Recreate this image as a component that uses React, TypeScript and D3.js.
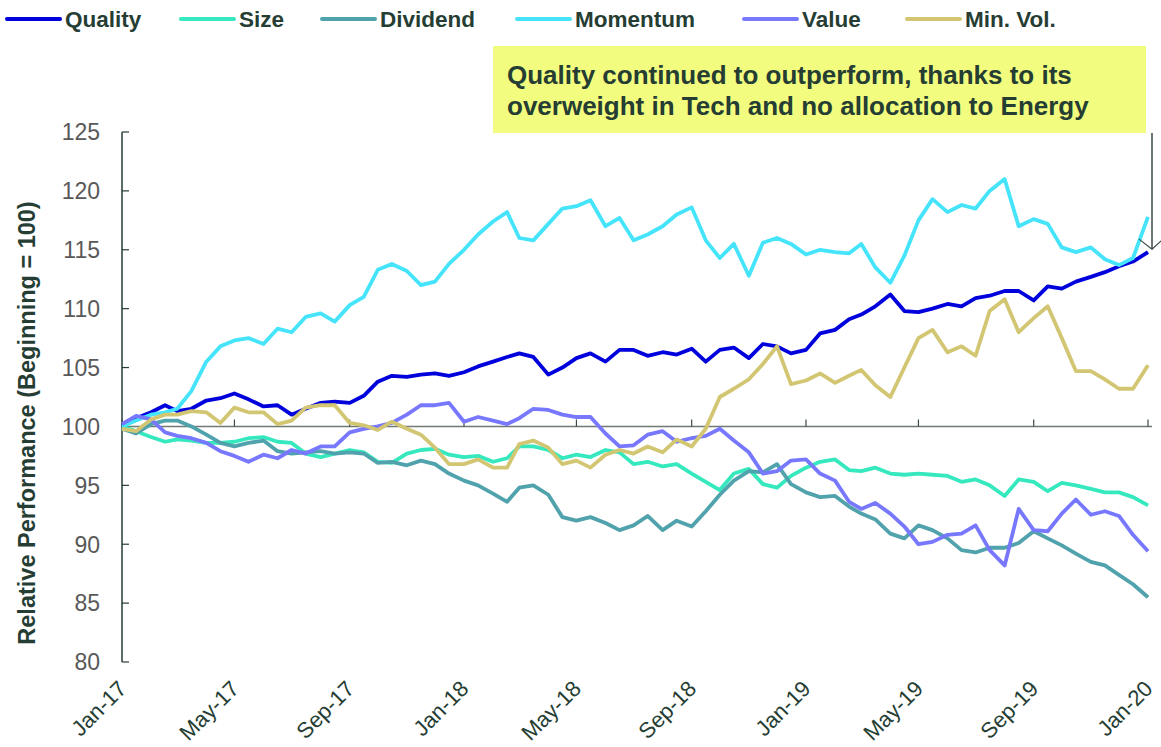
import React from 'react';
import * as d3 from 'd3';

// semi-monthly readings, Jan-17 .. Jan-20 (73 points)
const quality = [100, 100.7, 101.2, 101.8, 101.3, 101.5, 102.2, 102.4, 102.8, 102.3, 101.7, 101.8, 101, 101.5, 102, 102.1, 102, 102.6, 103.8, 104.3, 104.2, 104.4, 104.5, 104.3, 104.6, 105.1, 105.5, 105.9, 106.2, 105.9, 104.4, 105, 105.8, 106.2, 105.5, 106.5, 106.5, 106, 106.3, 106.1, 106.6, 105.5, 106.5, 106.7, 105.8, 107, 106.8, 106.2, 106.5, 107.9, 108.2, 109.1, 109.5, 110.2, 111.2, 109.8, 109.7, 110, 110.4, 110.2, 110.9, 111.1, 111.5, 111.5, 110.7, 111.9, 111.7, 112.3, 112.7, 113.1, 113.6, 114, 114.8];
const size = [100, 99.6, 99.1, 98.7, 98.9, 98.8, 98.6, 98.6, 98.7, 99, 99.1, 98.7, 98.6, 97.7, 97.4, 97.7, 98, 97.8, 97, 96.9, 97.7, 98, 98.1, 97.6, 97.4, 97.5, 97, 97.3, 98.3, 98.3, 98, 97.3, 97.6, 97.4, 98, 97.8, 96.8, 97, 96.6, 96.8, 96, 95.3, 94.6, 96, 96.4, 95.1, 94.8, 95.8, 96.5, 97, 97.2, 96.3, 96.2, 96.5, 96, 95.9, 96, 95.9, 95.8, 95.3, 95.5, 95, 94.1, 95.5, 95.3, 94.5, 95.2, 95, 94.7, 94.4, 94.4, 94, 93.3];
const dividend = [99.8, 99.4, 100.2, 100.5, 100.5, 100, 99.3, 98.6, 98.3, 98.6, 98.8, 97.9, 97.7, 97.8, 97.9, 97.7, 97.8, 97.7, 96.9, 97, 96.7, 97.1, 96.8, 96, 95.4, 95, 94.3, 93.6, 94.8, 95, 94.2, 92.3, 92, 92.3, 91.8, 91.2, 91.6, 92.4, 91.2, 92, 91.5, 92.8, 94.2, 95.4, 96.2, 96.1, 96.8, 95.1, 94.4, 94, 94.1, 93.2, 92.6, 92.1, 90.9, 90.5, 91.6, 91.2, 90.5, 89.5, 89.3, 89.7, 89.7, 90.1, 91.1, 90.5, 89.9, 89.2, 88.5, 88.2, 87.4, 86.6, 85.5];
const momentum = [100, 100.5, 101, 101.2, 101.5, 103, 105.5, 106.8, 107.3, 107.5, 107, 108.3, 108, 109.3, 109.6, 108.9, 110.3, 111, 113.3, 113.8, 113.2, 112, 112.3, 113.8, 115, 116.3, 117.4, 118.2, 116, 115.8, 117.2, 118.5, 118.7, 119.2, 117, 117.7, 115.8, 116.3, 117, 118, 118.6, 115.8, 114.3, 115.5, 112.8, 115.6, 116, 115.5, 114.6, 115, 114.8, 114.7, 115.5, 113.5, 112.2, 114.5, 117.5, 119.3, 118.2, 118.8, 118.5, 120, 121, 117, 117.6, 117.2, 115.2, 114.8, 115.2, 114.2, 113.7, 114.3, 117.8];
const value = [100.2, 100.9, 100.6, 99.5, 99.2, 99, 98.6, 97.9, 97.5, 97, 97.6, 97.3, 98, 97.7, 98.3, 98.3, 99.5, 99.8, 100, 100.3, 101, 101.8, 101.8, 102, 100.4, 100.8, 100.5, 100.2, 100.7, 101.5, 101.4, 101, 100.8, 100.8, 99.4, 98.3, 98.4, 99.3, 99.6, 98.7, 99, 99.2, 99.8, 98.8, 97.8, 96, 96.2, 97.1, 97.2, 96, 95.4, 93.6, 93, 93.5, 92.6, 91.5, 90, 90.2, 90.8, 90.9, 91.6, 89.5, 88.2, 93, 91.2, 91.1, 92.6, 93.8, 92.5, 92.8, 92.4, 90.8, 89.4];
const minVol = [99.8, 99.6, 100.6, 101, 101, 101.3, 101.2, 100.3, 101.6, 101.2, 101.2, 100.2, 100.5, 101.6, 101.8, 101.8, 100.3, 100.1, 99.7, 100.4, 99.8, 99.3, 98.2, 96.8, 96.8, 97.2, 96.5, 96.5, 98.5, 98.8, 98.2, 96.8, 97.1, 96.5, 97.6, 98, 97.7, 98.3, 97.8, 98.9, 98.3, 99.8, 102.5, 103.2, 104, 105.3, 106.8, 103.6, 103.9, 104.5, 103.7, 104.3, 104.8, 103.5, 102.5, 105, 107.5, 108.2, 106.3, 106.8, 106, 109.8, 110.8, 108, 109.2, 110.2, 107.5, 104.7, 104.7, 104, 103.2, 103.2, 105.2];

const seriesNames = ['Quality', 'Size', 'Dividend', 'Momentum', 'Value', 'Min. Vol.'];
const seriesValues = [quality, size, dividend, momentum, value, minVol];
const seriesColors = ['#0000dc', '#35e8be', '#50a2ac', '#45e4fb', '#7878ff', '#d2c673'];
const legendX = [7, 181, 322, 517, 744, 907];
const yTicks = [80, 85, 90, 95, 100, 105, 110, 115, 120, 125];
const noteLines = ['Quality continued to outperform, thanks to its', 'overweight in Tech and no allocation to Energy'];

const dateAt = (i: number) => new Date(2017, Math.floor(i / 2), i % 2 ? 16 : 1);

const W = 1161;
const H = 747;
const dark = '#253d33';

export default function App() {
  const x = d3.scaleTime().domain([new Date(2017, 0, 1), new Date(2020, 0, 1)]).range([122, 1148]);
  const y = d3.scaleLinear().domain([80, 125]).range([662, 132]);
  const xTicks = x.ticks(d3.timeMonth.every(4) as d3.TimeInterval);
  const fmt = d3.timeFormat('%b-%y');

  const line = d3
    .line<number>()
    .x((_, i) => x(dateAt(i)))
    .y((d) => y(d));

  const arrowX = 1152;
  const arrowY = y(quality[quality.length - 1]) - 3;

  return (
    <svg width={W} height={H} style={{ position: 'absolute', left: 0, top: 0, fontFamily: 'Arial, "Liberation Sans", sans-serif' }}>
      <rect width={W} height={H} fill="#fff" />

      {/* legend */}
      {seriesNames.map((name, k) => (
        <g key={name}>
          <line x1={legendX[k]} x2={legendX[k] + 53} y1={19} y2={19} stroke={seriesColors[k]} strokeWidth={4} strokeLinecap="round" />
          <text x={legendX[k] + 58} y={27} fontSize={22.5} fontWeight="bold" fill={dark}>
            {name}
          </text>
        </g>
      ))}

      {/* y axis */}
      <line x1={122} x2={122} y1={y(125)} y2={y(80)} stroke={dark} strokeWidth={1.5} />
      {yTicks.map((t) => (
        <g key={t}>
          <line x1={122} x2={129} y1={y(t)} y2={y(t)} stroke={dark} strokeWidth={1.2} />
          <text x={100} y={y(t)} dy="0.36em" textAnchor="end" fontSize={23} fill="#595959">
            {t}
          </text>
        </g>
      ))}
      <text
        transform={`translate(35,423) rotate(-90)`}
        textAnchor="middle"
        fontSize={23.5}
        fontWeight="bold"
        fill={dark}
      >
        Relative Performance (Beginning = 100)
      </text>

      {/* x axis along 100 */}
      <line x1={122} x2={1152} y1={y(100)} y2={y(100)} stroke="#6f7a75" strokeWidth={1.5} />
      {xTicks.map((t) => (
        <g key={t.getTime()}>
          <line x1={x(t)} x2={x(t)} y1={y(100)} y2={y(100) - 7} stroke="#3c4a44" strokeWidth={1.2} />
          <text
            transform={`translate(${x(t) + 6},${690}) rotate(-45)`}
            textAnchor="end"
            fontSize={22}
            fill={dark}
          >
            {fmt(t)}
          </text>
        </g>
      ))}

      {/* series */}
      {seriesValues.map((vals, k) => (
        <path key={seriesNames[k]} d={line(vals) || ''} fill="none" stroke={seriesColors[k]} strokeWidth={3.8} strokeLinejoin="round" />
      ))}

      {/* annotation */}
      <rect x={493} y={46} width={653} height={87} fill="#f2fc7e" />
      {noteLines.map((s, i) => (
        <text key={i} x={507} y={84 + i * 31} fontSize={26} fontWeight="bold" fill={dark}>
          {s}
        </text>
      ))}
      <line x1={arrowX} x2={arrowX} y1={133} y2={arrowY} stroke="#3c4a44" strokeWidth={1.5} />
      <polyline
        points={`${arrowX - 13},${arrowY - 10} ${arrowX},${arrowY} ${arrowX + 11},${arrowY - 10}`}
        fill="none"
        stroke="#3c4a44"
        strokeWidth={1.2}
      />
    </svg>
  );
}
